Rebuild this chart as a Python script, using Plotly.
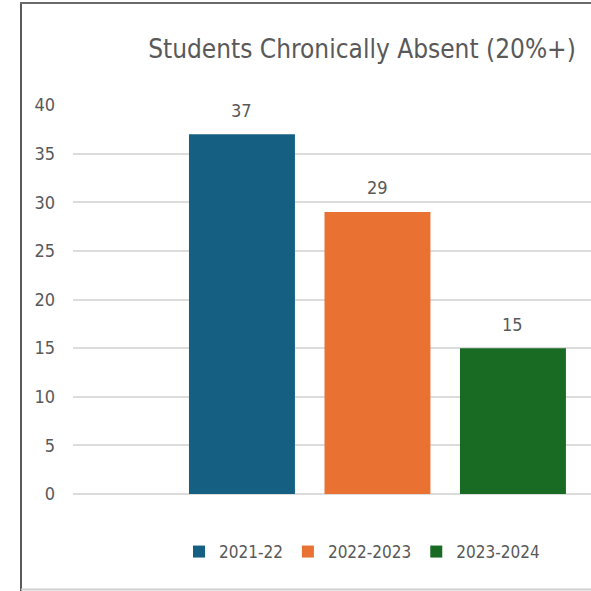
import plotly.graph_objects as go

# Chart data
years = ["2021-22", "2022-2023", "2023-2024"]
absent_counts = [37, 29, 15]
bar_colors = ["#156082", "#E97132", "#196B24"]
y_ticks = [0, 5, 10, 15, 20, 25, 30, 35, 40]

W, H = 591, 591
M_L, M_R, M_T, M_B = 73, 0, 105, 97
PLOT_W = W - M_L - M_R
PLOT_H = H - M_T - M_B

FONT = "Liberation Sans Narrow, DejaVu Sans Condensed, Roboto, sans-serif"
TEXT_COLOR = "#595959"


def px_x(px):
    return (px - M_L) / PLOT_W


def px_y(py):
    return (H - M_B - py) / PLOT_H


fig = go.Figure()
for year, count, color in zip(years, absent_counts, bar_colors):
    fig.add_trace(go.Bar(
        x=[year], y=[count], name=year,
        marker=dict(color=color, line=dict(width=0)),
        hoverinfo="x+y",
    ))
    fig.add_annotation(
        x=year, y=count, text=str(count), showarrow=False,
        yshift=24, yanchor="middle",
        font=dict(family=FONT, size=18, color=TEXT_COLOR),
    )

# outer frame of the chart
frame = [
    (21, 3, 21, 591, "#5a5a5a"),
    (20, 3, 591, 3, "#6a6a6a"),
    (21, 589.5, 591, 589.5, "#d0d0d0"),
]
for x0, y0, x1, y1, c in frame:
    fig.add_shape(type="line", xref="paper", yref="paper",
                  x0=px_x(x0), y0=px_y(y0), x1=px_x(x1), y1=px_y(y1),
                  line=dict(color=c, width=2))

fig.update_layout(
    width=W, height=H,
    margin=dict(l=M_L, r=M_R, t=M_T, b=M_B, pad=0),
    paper_bgcolor="white", plot_bgcolor="white",
    barmode="overlay", bargap=0.218,
    font=dict(family=FONT, color=TEXT_COLOR),
    title=dict(
        text="Students Chronically Absent (20%+)",
        x=362 / W, xanchor="center", xref="container",
        y=1 - 49 / H, yanchor="middle", yref="container",
        font=dict(family=FONT, size=26, color=TEXT_COLOR),
    ),
    showlegend=True,
    legend=dict(
        orientation="h", x=px_x(362), xanchor="center",
        y=px_y(552), yanchor="middle",
        font=dict(family=FONT, size=17, color=TEXT_COLOR),
        itemsizing="constant", itemwidth=30, tracegroupgap=0,
        bgcolor="rgba(0,0,0,0)",
    ),
    xaxis=dict(
        type="category", categoryorder="array", categoryarray=years,
        range=[-1.247, 2.576], showticklabels=False, showgrid=False,
        showline=False, zeroline=False, ticks="", fixedrange=True,
    ),
    yaxis=dict(
        range=[0, 40], tickvals=y_ticks, showgrid=True,
        gridcolor="#dcdcdc", gridwidth=2,
        zeroline=True, zerolinecolor="#dcdcdc", zerolinewidth=2,
        showline=False, ticks="", ticklabelstandoff=17,
        tickfont=dict(family=FONT, size=18, color=TEXT_COLOR),
        fixedrange=True,
    ),
)

fig.write_html("out.html")
